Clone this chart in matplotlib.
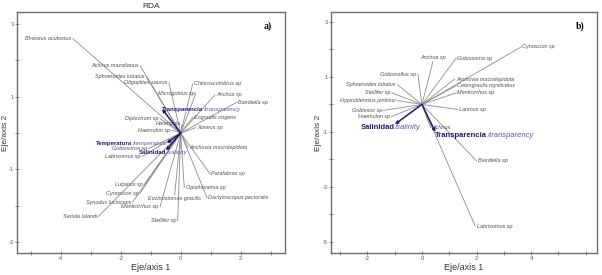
import numpy as np
import matplotlib
matplotlib.use("Agg")
import matplotlib.pyplot as plt

plt.rcParams["axes.unicode_minus"] = False
plt.rcParams["font.family"] = ["Liberation Sans", "DejaVu Sans"]

# ---- panel a) species scores
sp_a = ["Bhaneus acutostus", "Achirus mazatlanus", "Sphoeroides lobatus", "Oligoplites saurus",
        "Chloroscombrus sp", "Microgobius sp", "Anchoa sp", "Bairdiella sp",
        "Diplectrum sp", "Engraulis ringens", "Harengula", "Haemulon sp", "Xoneus sp",
        "Gobiosoma sp", "Anchovia macrolepidota", "Labrisomus sp", "Paralabrax sp",
        "Lutjanus sp", "Opisthonema sp", "Cynoscion sp", "Eucinostomus gracilis",
        "Dactyloscopus pectoralis", "Synodus lucioceps", "Menticirrhus sp",
        "Seriola lalandi", "Stellifer sp"]
sp_a_x = [-3.6, -1.35, -1.15, -0.39, 0.4, 0.5, 1.14, 1.88,
          -0.69, 0.41, 0.05, -0.3, 0.5,
          -1.08, 0.25, -1.29, 0.98, -1.22, 0.12, -1.35, -0.2,
          0.88, -1.6, -0.69, -2.75, -0.1]
sp_a_y = [2.6, 1.85, 1.55, 1.38, 1.35, 1.08, 1.05, 0.85,
          0.4, 0.44, 0.25, 0.08, 0.15,
          -0.43, -0.4, -0.65, -1.12, -1.42, -1.5, -1.65, -1.7,
          -1.78, -1.9, -2.03, -2.3, -2.4]
sp_a_side = ["r", "r", "r", "r", "l", "r", "l", "l",
             "r", "l", "r", "r", "l",
             "r", "l", "r", "l", "r", "l", "r", "b",
             "l", "r", "r", "r", "r"]

env_a = ["Transparencia", "Temperatura", "Salinidad"]
env_a_tr = ["/transparency", "/temperature", "/salinity"]
env_a_x = [-0.62, -0.46, -0.49]
env_a_y = [0.66, -0.28, -0.48]
env_a_side = ["l", "r", "mb"]

# ---- panel b) species scores
sp_b = ["Cynoscion sp", "Anchoa sp", "Gobiosoma sp", "Gobionellus sp",
        "Anchovia macrolepidota", "Cetengraulis mysticetus", "Menticirrhus sp",
        "Sphoeroides lobatus", "Stellifer sp", "Hypsoblennius jenkinsi",
        "Gobiesox sp", "Haemulon sp", "Larimus sp", "Achirus",
        "Bairdiella sp", "Labrisomus sp"]
sp_b_x = [3.63, 0.4, 1.25, -0.15, 1.2, 1.25, 1.25, -0.9, -1.1, -0.92,
          -1.42, -1.12, 1.3, 0.32, 2.0, 1.95]
sp_b_y = [2.09, 1.55, 1.68, 1.1, 0.92, 0.68, 0.42, 0.72, 0.42, 0.14,
          -0.22, -0.44, -0.18, -0.85, -2.05, -4.42]
sp_b_side = ["l", "a", "l", "r", "l", "l", "l", "r", "r", "r",
             "r", "r", "l", "l", "l", "l"]

env_b = ["Salinidad", "Transparencia"]
env_b_tr = ["/salinity", "/transparency"]
env_b_x = [-0.99, 0.49]
env_b_y = [-0.72, -1.0]
env_b_side = ["mb", "lb"]

navy = "#1c1c78"
light = "#5a5ab0"
grey_line = "#8c8c8c"
txt = "#505050"


def draw_panel(ax, names, xs, ys, sides, env, env_tr, ex, ey, eside,
               xlim, ylim, xt, yt, tag, efs):
    for n, x, y, s in zip(names, xs, ys, sides):
        ax.plot([0, x], [0, y], color=grey_line, lw=0.6, zorder=2)
        if s == "l":
            ax.annotate(n, (x, y), xytext=(1, 0), textcoords="offset points",
                        ha="left", va="center", fontsize=4, style="italic", color=txt)
        elif s == "r":
            ax.annotate(n, (x, y), xytext=(-1, 0), textcoords="offset points",
                        ha="right", va="center", fontsize=4, style="italic", color=txt)
        elif s == "a":
            ax.annotate(n, (x, y), xytext=(0, 1), textcoords="offset points",
                        ha="center", va="bottom", fontsize=4, style="italic", color=txt)
        else:
            ax.annotate(n, (x, y), xytext=(0, -1), textcoords="offset points",
                        ha="center", va="top", fontsize=4, style="italic", color=txt)

    for n, t, x, y, s in zip(env, env_tr, ex, ey, eside):
        ax.annotate("", xy=(x, y), xytext=(0, 0),
                    arrowprops=dict(arrowstyle="-|>", color=navy, lw=1.1,
                                    mutation_scale=4, shrinkA=0, shrinkB=0), zorder=4)
        va = "top" if s.endswith("b") else "center"
        if s[0] == "l":
            t1 = ax.text(x, y, n, ha="left", va=va, fontsize=efs, color=navy,
                         fontweight="bold", zorder=5)
            ax.annotate(t, xy=(1, 0), xycoords=t1, ha="left", va="bottom",
                        fontsize=efs, color=light, style="italic", zorder=5)
        elif s[0] == "m":
            t1 = ax.text(x, y, n, ha="right", va=va, fontsize=efs, color=navy,
                         fontweight="bold", zorder=5)
            ax.annotate(t, xy=(1, 0), xycoords=t1, ha="left", va="bottom",
                        fontsize=efs, color=light, style="italic", zorder=5)
        else:
            t2 = ax.text(x, y, t, ha="right", va=va, fontsize=efs, color=light,
                         style="italic", zorder=5)
            ax.annotate(n, xy=(0, 0), xycoords=t2, ha="right", va="bottom",
                        fontsize=efs, color=navy, fontweight="bold", zorder=5)

    ax.set_xlim(*xlim)
    ax.set_ylim(*ylim)
    ax.set_xticks(xt)
    ax.set_yticks(yt)
    ax.set_xticks(np.arange(np.ceil(xlim[0]), xlim[1]), minor=True)
    ax.set_yticks(np.arange(np.ceil(ylim[0]), ylim[1]), minor=True)
    ax.tick_params(which="both", direction="inout", length=2.5, width=0.6,
                   color="#777777", labelsize=4, labelcolor="#555555", pad=1.2)
    for sp in ax.spines.values():
        sp.set_color("#6e6e6e")
        sp.set_linewidth(1.0)
    ax.set_xlabel("Eje/axis 1", fontsize=6.5, color="#333333", labelpad=1)
    ax.set_ylabel("Eje/axis 2", fontsize=6, color="#333333")
    ax.text(0.935, 0.94, tag, transform=ax.transAxes, ha="center", va="center",
            fontsize=7, fontweight="bold", family="Liberation Serif")


fig = plt.figure(figsize=(6.02, 2.75), dpi=100)
ax1 = fig.add_axes([17 / 602, 22 / 275, 268 / 602, 241 / 275])
ax2 = fig.add_axes([331 / 602, 22 / 275, 266 / 602, 241 / 275])

draw_panel(ax1, sp_a, sp_a_x, sp_a_y, sp_a_side, env_a, env_a_tr, env_a_x, env_a_y,
           env_a_side, (-5.46, 3.48), (-3.3, 3.33), [-4, -2, 0, 2], [-3, -1, 1, 3], "a)", 4.4)
draw_panel(ax2, sp_b, sp_b_x, sp_b_y, sp_b_side, env_b, env_b_tr, env_b_x, env_b_y,
           env_b_side, (-3.33, 6.41), (-5.4, 3.36), [-2, 0, 2, 4], [-5, -3, -1, 1, 3], "b)", 5.5)
ax1.yaxis.set_label_coords(-0.03, 0.5)
ax2.yaxis.set_label_coords(-0.034, 0.5)
ax1.set_title("RDA", fontsize=6, color="#333333", pad=3)

fig.savefig("out.png", dpi=100)
